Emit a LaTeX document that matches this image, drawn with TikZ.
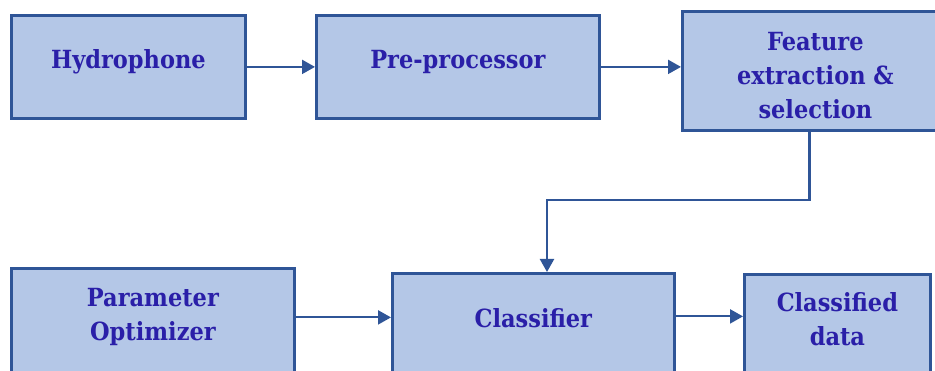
\documentclass[tikz,border=0pt]{standalone}
\usepackage{fontspec}
\usepackage{tikz}
\usetikzlibrary{arrows.meta,positioning,calc}
\newfontfamily\blkfont{DejaVu Serif Condensed Bold}
\definecolor{blkfill}{HTML}{B4C7E7}
\definecolor{blkline}{HTML}{2F5597}
\definecolor{blktext}{HTML}{2A1FA8}

\begin{document}
\begin{tikzpicture}[x=1pt, y=-1pt,
  blk/.style={draw=blkline, fill=blkfill, line width=2.8pt, anchor=north west,
    align=center, text=blktext, font=\blkfont\fontsize{25}{34}\selectfont},
  arr/.style={-{Triangle[length=13pt, width=14pt]}, draw=blkline, line width=2.2pt}
]
  \clip (0,0) rectangle (935,371);

  % top row
  \node[blk, minimum width=234pt, minimum height=103pt, text depth=16pt]
    (hydro) at (10,14) {Hydrophone};
  \node[blk, minimum width=283pt, minimum height=103pt, text depth=16pt]
    (prep) at (315,14) {Pre-processor};
  \node[blk, minimum width=266pt, minimum height=119pt, text height=95pt]
    (feat) at (681,10) {Feature\\extraction \&\\selection};

  % bottom row (runs off the lower edge)
  \node[blk, minimum width=283pt, minimum height=110pt, text depth=18pt]
    (param) at (10,267) {Parameter\\Optimizer};
  \node[blk, minimum width=282pt, minimum height=105pt, text depth=16pt]
    (clsf) at (391,272) {Classifier};
  \node[blk, minimum width=186pt, minimum height=104pt, text depth=14pt]
    (cdata) at (743,273) {Classified\\data};

  % edges
  \coordinate (elbow) at (547,200);
  \draw[arr] (hydro.east) -- (hydro.east -| prep.west);
  \draw[arr] (prep.east) -- (prep.east -| feat.west);
  \draw[arr] ([xshift=-6pt]feat.south) |- (elbow) -- (elbow |- clsf.north);
  \draw[arr] ([yshift=6pt]param.east) -- ([yshift=6pt]param.east -| clsf.west);
  \draw[arr] ([yshift=9.5pt]clsf.east) -- ([yshift=9.5pt]clsf.east -| cdata.west);
\end{tikzpicture}
\end{document}
